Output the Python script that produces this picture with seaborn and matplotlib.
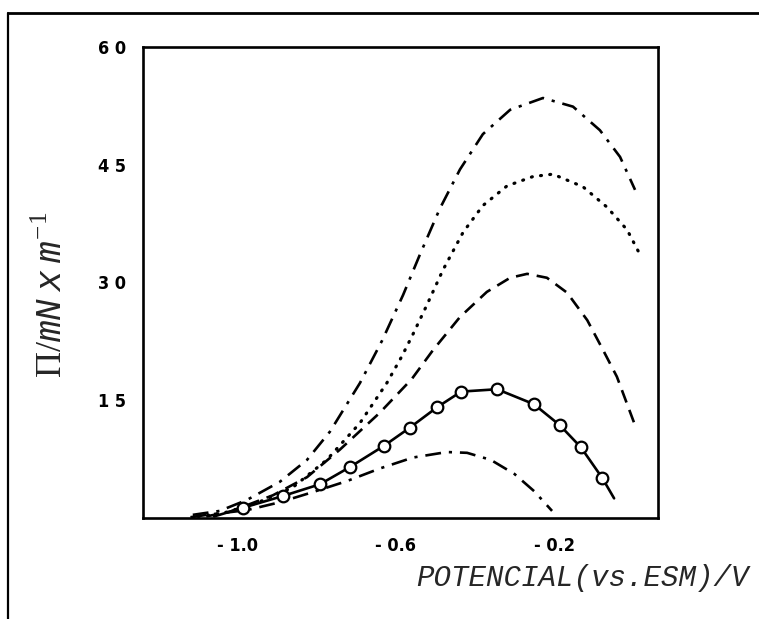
import numpy as np
import pandas as pd
import matplotlib
matplotlib.use("Agg")
import matplotlib.pyplot as plt
import seaborn as sns
from matplotlib.lines import Line2D

sns.set_theme(style="white")
plt.rcParams['font.family'] = ['DejaVu Sans']
plt.rcParams['mathtext.fontset'] = 'custom'
plt.rcParams['mathtext.rm'] = 'Liberation Serif'
plt.rcParams['mathtext.it'] = 'Liberation Mono:italic'

# curves (potential in V, surface pressure in mN/m)
x_top = [-1.114, -1.046, -0.977, -0.894, -0.825, -0.767, -0.691, -0.635, -0.582, -0.539, -0.489,
         -0.438, -0.380, -0.311, -0.228, -0.152, -0.084, -0.033, 0.005]
y_top = [0.4, 0.9, 2.3, 4.6, 7.4, 11.0, 17.2, 22.6, 28.4, 33.6, 39.4,
         44.4, 48.9, 52.0, 53.5, 52.4, 49.4, 46.0, 41.8]

x_dot = [-1.10, -1.038, -0.952, -0.861, -0.775, -0.691, -0.623, -0.585, -0.557, -0.522, -0.481,
         -0.430, -0.380, -0.319, -0.253, -0.203, -0.127, -0.066, -0.015, 0.015]
y_dot = [0.2, 0.6, 1.9, 3.9, 7.4, 12.1, 17.2, 20.6, 23.4, 27.1, 31.6,
         36.4, 39.8, 42.3, 43.5, 43.8, 42.2, 39.6, 36.7, 33.8]

x_dash = [-1.08, -1.02, -0.911, -0.825, -0.742, -0.641, -0.560, -0.506, -0.438, -0.370, -0.311,
          -0.268, -0.218, -0.167, -0.116, -0.076, -0.041, 0.005]
y_dash = [0.2, 0.8, 2.9, 5.2, 8.7, 13.4, 17.7, 21.4, 25.6, 28.8, 30.6,
          31.1, 30.6, 28.7, 25.2, 21.4, 18.0, 11.8]

x_circ = [-0.987, -0.886, -0.792, -0.716, -0.630, -0.565, -0.496, -0.435, -0.344, -0.251, -0.185, -0.132, -0.078]
y_circ = [1.3, 2.8, 4.3, 6.5, 9.2, 11.5, 14.1, 16.1, 16.4, 14.5, 11.8, 9.0, 5.1]
x_circ_line = [-1.06] + x_circ + [-0.048]
y_circ_line = [0.2] + y_circ + [2.5]

x_low = [-1.12, -1.078, -0.977, -0.894, -0.810, -0.724, -0.641, -0.557, -0.471, -0.420, -0.360, -0.300, -0.250, -0.205]
y_low = [0.1, 0.4, 1.0, 2.0, 3.3, 4.7, 6.3, 7.7, 8.4, 8.3, 7.4, 5.6, 3.4, 0.9]

x_major = [-1.0, -0.6, -0.2]
x_major_labels = ['- 1.0', '- 0.6', '- 0.2']
x_minor = [-0.8, -0.4, 0.0]
y_ticks = [15, 30, 45, 60]
y_tick_labels = ['1 5', '3 0', '4 5', '6 0']

fig = plt.figure(figsize=(7.59, 6.19), dpi=100)
ax = fig.add_axes([0.1884, 0.1632, 0.6785, 0.7609])

lw = 1.9
sns.lineplot(x=x_top, y=y_top, sort=False, color='black', lw=lw, linestyle=(0, (6, 3, 1.2, 3)), ax=ax)
sns.lineplot(x=x_dot, y=y_dot, sort=False, color='black', lw=2.3, linestyle=(0, (0.3, 2.6)),
             dash_capstyle='round', ax=ax)
sns.lineplot(x=x_dash, y=y_dash, sort=False, color='black', lw=lw, linestyle=(0, (5, 3)), ax=ax)
sns.lineplot(x=x_circ_line, y=y_circ_line, sort=False, color='black', lw=lw, ax=ax)
sns.scatterplot(x=x_circ, y=y_circ, s=70, marker='o', facecolor='white', edgecolor='black',
                linewidth=1.6, zorder=5, ax=ax)
sns.lineplot(x=x_low, y=y_low, sort=False, color='black', lw=lw, linestyle=(0, (6, 3, 1.2, 3)), ax=ax)

ax.set_xlim(-1.24, 0.063)
ax.set_ylim(0, 60)
ax.set_xticks(x_major)
ax.set_xticklabels(x_major_labels)
ax.set_xticks(x_minor, minor=True)
ax.set_yticks(y_ticks)
ax.set_yticklabels(y_tick_labels)
ax.tick_params(axis='both', which='both', direction='in', length=9, width=1.8,
               labelsize=13, colors='black')
ax.tick_params(axis='x', which='major', pad=14)
ax.tick_params(axis='y', which='major', pad=12)
for t in ax.get_xticklabels() + ax.get_yticklabels():
    t.set_fontweight('semibold')
    t.set_fontstretch('condensed')
for s in ax.spines.values():
    s.set_linewidth(1.9)
    s.set_color('black')
ax.set_xlabel('')
ax.set_ylabel('')

fig.text(0.987, 0.066, 'POTENCIAL(vs.ESM)/V', ha='right', va='center', fontsize=21,
         family='Liberation Mono', style='italic')
fig.text(0.068, 0.523, r'$\mathrm{\Pi}/mN\ x\ m^{-1}$', rotation=90, ha='center', va='center',
         fontsize=26)

# scan frame
fig.add_artist(Line2D([0.01, 1.0], [0.979, 0.979], color='black', lw=2, transform=fig.transFigure))
fig.add_artist(Line2D([0.011, 0.011], [0.979, 0.0], color='black', lw=1.6, transform=fig.transFigure))

fig.savefig('out.png', dpi=100)
